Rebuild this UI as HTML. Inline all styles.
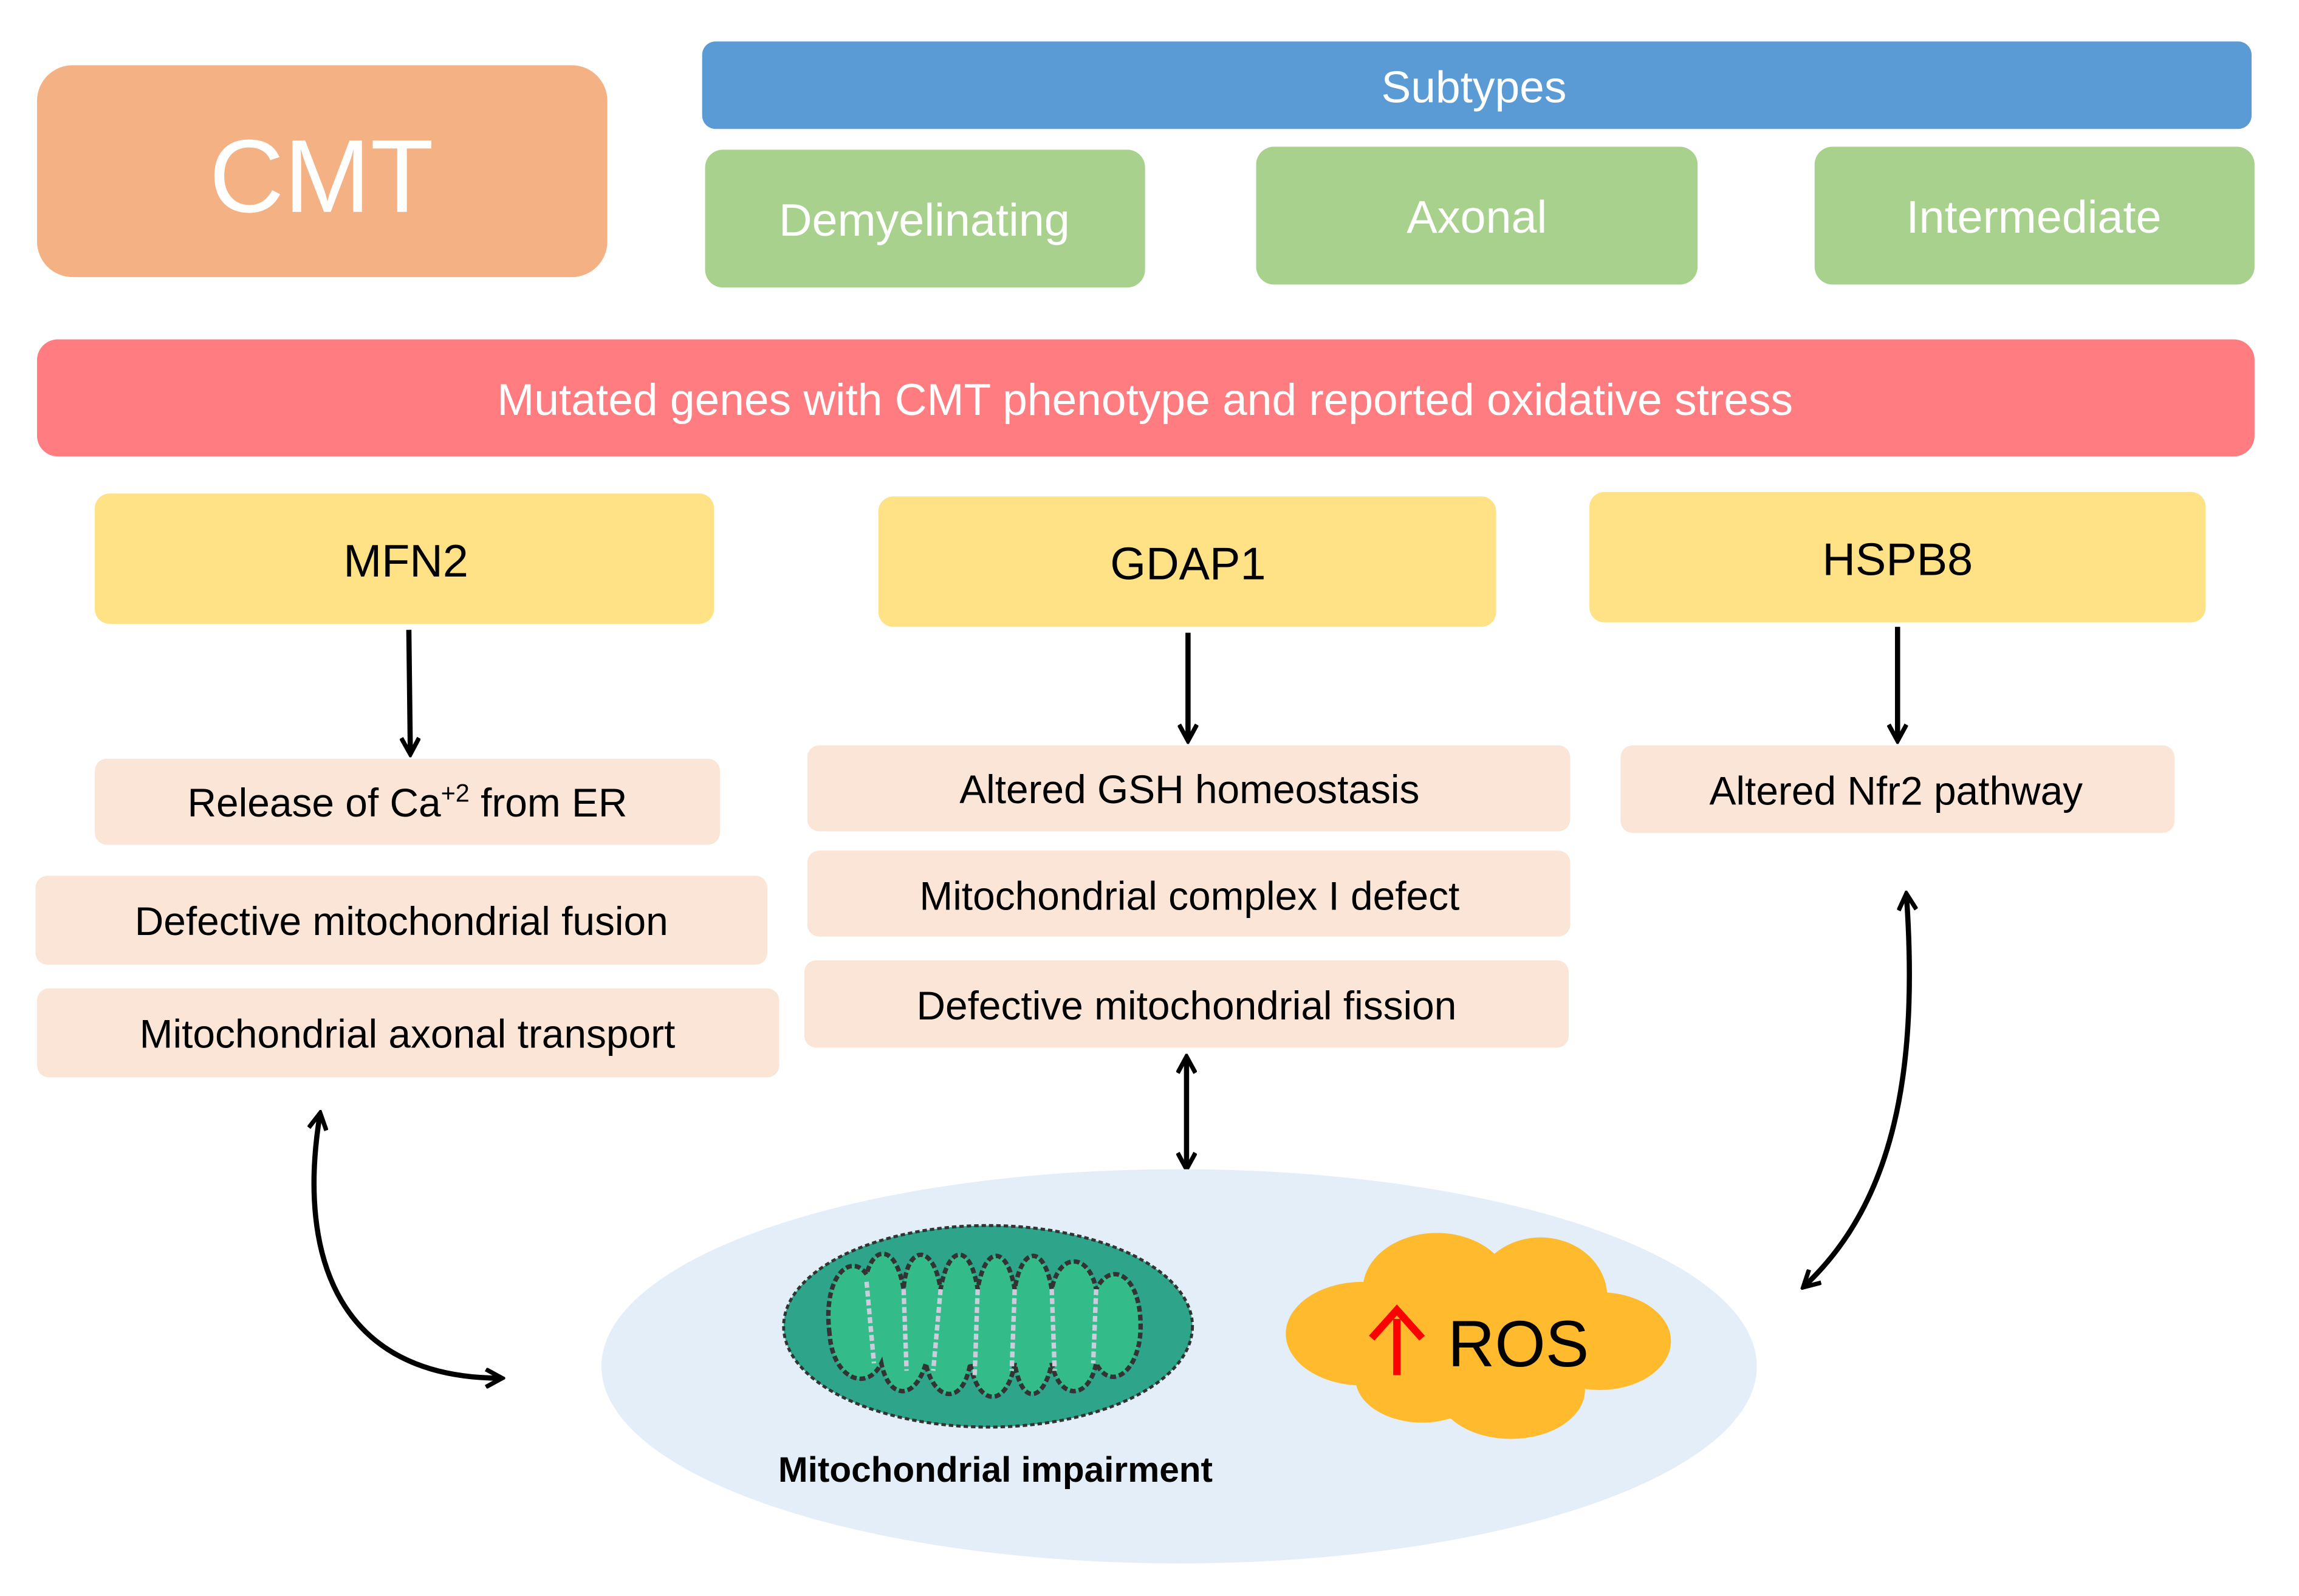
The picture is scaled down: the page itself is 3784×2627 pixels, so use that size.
<!DOCTYPE html>
<html><head><meta charset="utf-8"><style>
html,body{margin:0;padding:0;background:#fff}
svg{display:block}
text{font-family:"Liberation Sans","DejaVu Sans",sans-serif}
</style></head><body>
<svg width="3784" height="2627" viewBox="0 0 1552 1077" preserveAspectRatio="none" xmlns="http://www.w3.org/2000/svg">
<defs>
<marker id="ah" markerWidth="14" markerHeight="14" refX="11" refY="7" orient="auto" markerUnits="userSpaceOnUse">
<path d="M1,1 L12,7 L1,13" fill="none" stroke="#000" stroke-width="3"/>
</marker>
<marker id="ahs" markerWidth="14" markerHeight="14" refX="3" refY="7" orient="auto" markerUnits="userSpaceOnUse">
<path d="M13,1 L2,7 L13,13" fill="none" stroke="#000" stroke-width="3"/>
</marker>
</defs>
<rect x="25" y="44" width="385" height="143" rx="24" fill="#F4B183"/>
<text x="217" y="143" font-size="70" fill="#fff" text-anchor="middle">CMT</text>
<rect x="474" y="28" width="1046" height="59" rx="9" fill="#5B9BD5"/>
<text x="995" y="69" font-size="30" fill="#fff" text-anchor="middle">Subtypes</text>
<rect x="476" y="101" width="297" height="93" rx="12" fill="#A9D18E"/>
<text x="624" y="159" font-size="31" fill="#fff" text-anchor="middle">Demyelinating</text>
<rect x="848" y="99" width="298" height="93" rx="12" fill="#A9D18E"/>
<text x="997" y="157" font-size="31" fill="#fff" text-anchor="middle">Axonal</text>
<rect x="1225" y="99" width="297" height="93" rx="12" fill="#A9D18E"/>
<text x="1373" y="157" font-size="31" fill="#fff" text-anchor="middle">Intermediate</text>
<rect x="25" y="229" width="1497" height="79" rx="14" fill="#FF7C80"/>
<text x="773" y="280" font-size="30" fill="#fff" text-anchor="middle">Mutated genes with CMT phenotype and reported oxidative stress</text>
<rect x="64" y="333" width="418" height="88" rx="10" fill="#FFE285"/>
<text x="274" y="389" font-size="31" fill="#000" text-anchor="middle">MFN2</text>
<rect x="593" y="335" width="417" height="88" rx="10" fill="#FFE285"/>
<text x="802" y="391" font-size="31" fill="#000" text-anchor="middle">GDAP1</text>
<rect x="1073" y="332" width="416" height="88" rx="10" fill="#FFE285"/>
<text x="1281" y="388" font-size="31" fill="#000" text-anchor="middle">HSPB8</text>
<g stroke="#000" stroke-width="3.5" fill="none">
<line x1="276" y1="425" x2="277" y2="508" marker-end="url(#ah)"/>
<line x1="802" y1="427" x2="802" y2="499" marker-end="url(#ah)"/>
<line x1="1281" y1="423" x2="1281" y2="499" marker-end="url(#ah)"/>
<line x1="801" y1="714" x2="801" y2="788" marker-end="url(#ah)" marker-start="url(#ahs)"/>
<path d="M216,752 C200,850 230,930 338,930" marker-end="url(#ah)" marker-start="url(#ahs)"/>
<path d="M1287,604 C1295,720 1280,810 1218,868" marker-end="url(#ah)" marker-start="url(#ahs)"/>
</g>
<g fill="#FBE5D6">
<rect x="64" y="512" width="422" height="58" rx="8"/>
<rect x="24" y="591" width="494" height="60" rx="8"/>
<rect x="25" y="667" width="501" height="60" rx="8"/>
<rect x="545" y="503" width="515" height="58" rx="8"/>
<rect x="545" y="574" width="515" height="58" rx="8"/>
<rect x="543" y="648" width="516" height="59" rx="8"/>
<rect x="1094" y="503" width="374" height="59" rx="8"/>
</g>
<g font-size="27" fill="#000" text-anchor="middle">
<text x="275" y="551">Release of Ca<tspan font-size="17" dy="-10">+2</tspan><tspan dy="10"> from ER</tspan></text>
<text x="271" y="631">Defective mitochondrial fusion</text>
<text x="275" y="707">Mitochondrial axonal transport</text>
<text x="803" y="542">Altered GSH homeostasis</text>
<text x="803" y="614">Mitochondrial complex I defect</text>
<text x="801" y="688">Defective mitochondrial fission</text>
<text x="1280" y="543">Altered Nfr2 pathway</text>
</g>
<ellipse cx="796" cy="922" rx="390" ry="133" fill="#E3EEF8"/>
<ellipse cx="667" cy="895" rx="138" ry="68" fill="#2EA58A" stroke="#333" stroke-width="2" stroke-dasharray="3,2"/>
<path d="M560,900 C555,860 575,845 585,860 C590,840 605,840 610,870 C612,840 630,838 635,870 C640,840 655,838 660,870 C665,840 680,840 685,870 C690,840 705,840 710,870 C715,845 735,845 740,870 C750,850 770,860 770,895 C770,925 750,940 740,920 C735,945 715,945 710,920 C705,945 690,950 685,920 C680,950 660,950 655,920 C650,950 630,945 625,920 C618,945 600,945 595,920 C585,940 562,930 560,900 Z" fill="#33BB8A" stroke="#333" stroke-width="3" stroke-dasharray="4,2"/>
<path d="M585,865 L590,920 M610,870 L612,925 M635,870 L630,925 M660,870 L658,928 M685,870 L683,925 M710,870 L712,925 M740,870 L738,920" stroke="#ccd" stroke-width="3" stroke-dasharray="4,2"/>
<g fill="#FFBA2E">
<ellipse cx="970" cy="870" rx="50" ry="38"/>
<ellipse cx="1040" cy="875" rx="45" ry="40"/>
<ellipse cx="920" cy="900" rx="52" ry="35"/>
<ellipse cx="1080" cy="905" rx="48" ry="33"/>
<ellipse cx="960" cy="930" rx="45" ry="30"/>
<ellipse cx="1020" cy="938" rx="50" ry="33"/>
<ellipse cx="1000" cy="900" rx="110" ry="38"/>
</g>
<line x1="943" y1="928" x2="943" y2="890" stroke="#f00" stroke-width="5"/>
<path d="M926,903 L943,884 L960,903" stroke="#f00" stroke-width="5" fill="none"/>
<text x="1025" y="922" font-size="44" fill="#000" text-anchor="middle">ROS</text>
<text x="672" y="1000" font-size="24" font-weight="bold" fill="#000" text-anchor="middle">Mitochondrial impairment</text>
</svg>
</body></html>
